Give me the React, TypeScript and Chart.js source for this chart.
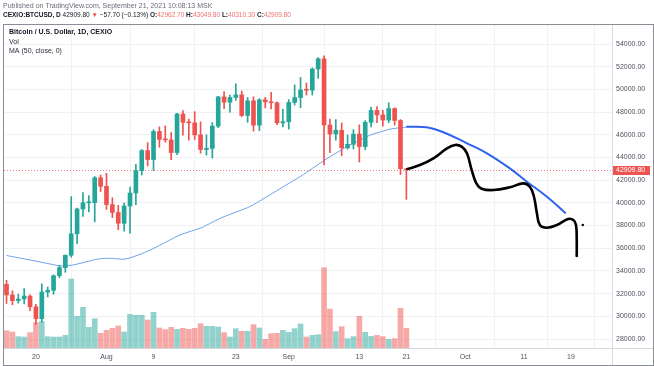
import React, { useEffect, useRef } from 'react';
import { Chart, registerables } from 'chart.js';
Chart.register(...registerables);

// Daily candles, CEXIO BTC/USD, Jul 15 – Sep 21 2021 (index = days since Jul 15)
const dates = ['Jul 15','Jul 16','Jul 17','Jul 18','Jul 19','Jul 20','Jul 21','Jul 22','Jul 23','Jul 24','Jul 25','Jul 26','Jul 27','Jul 28','Jul 29','Jul 30','Jul 31',
  'Aug 1','Aug 2','Aug 3','Aug 4','Aug 5','Aug 6','Aug 7','Aug 8','Aug 9','Aug 10','Aug 11','Aug 12','Aug 13','Aug 14','Aug 15','Aug 16','Aug 17','Aug 18','Aug 19','Aug 20','Aug 21','Aug 22','Aug 23','Aug 24','Aug 25','Aug 26','Aug 27','Aug 28','Aug 29','Aug 30','Aug 31',
  'Sep 1','Sep 2','Sep 3','Sep 4','Sep 5','Sep 6','Sep 7','Sep 8','Sep 9','Sep 10','Sep 11','Sep 12','Sep 13','Sep 14','Sep 15','Sep 16','Sep 17','Sep 18','Sep 19','Sep 20','Sep 21'];
const opens = [32820,31880,31390,31530,31780,30840,29790,32140,32290,33580,34290,35380,37270,39460,40010,40020,42210,
  41460,39850,39150,38200,39720,40870,42840,44610,43810,46290,45600,45550,44430,47830,47100,47050,45990,44700,44800,46760,49340,48870,49290,49520,47700,48990,46850,49080,48900,48820,47050,
  47150,48850,49280,49950,49930,51800,52700,46860,46070,46400,44850,45160,46060,44960,47100,48150,47750,47290,48310,47260,42960];
const highs = [33180,32250,31950,32440,31900,31060,32860,32580,33650,34490,35400,40550,39540,40900,40640,42320,42450,
  42600,40450,39780,39970,41380,43390,44700,45310,46450,46700,46780,46200,47880,48140,47380,48040,47140,46000,47080,49380,49800,49500,50500,49860,49280,49340,49180,49300,49750,48900,48250,
  49100,50400,51050,50560,51900,52800,52950,47380,47340,47050,45980,46460,46880,47250,48450,48490,48160,48820,48380,47340,43050];
const lows = [31130,31020,31160,31100,30500,29280,29480,31710,31940,33400,33880,35210,36400,38800,39200,38320,41000,
  39420,38690,37640,37510,37330,39850,42450,43260,42840,44900,45350,43800,44240,45970,45520,45580,44380,44200,43950,46630,48300,48000,49030,47600,47100,46320,46370,48370,48270,46890,46700,
  46500,48620,48380,49500,49500,50970,43350,44420,45520,44150,44730,44750,43600,44690,46700,47070,46750,47070,46850,42500,40310];
const closes = [31880,31380,31520,31780,30840,29790,32140,32290,33580,34290,35380,37270,39460,40010,40020,42210,41460,
  39850,39150,38200,39720,40870,42840,44610,43810,46290,45600,45550,44430,47830,47100,47050,45990,44700,44800,46760,49340,48870,49290,49520,47700,48990,46850,49080,48900,48820,47050,47150,
  48850,49280,49950,49930,51800,52700,46860,46070,46400,44850,45160,46060,44960,47100,48150,47750,47290,48310,47260,43010,42910];
const volumes = [520,480,340,330,460,760,790,340,330,330,380,2070,950,1220,620,880,440,
  530,590,660,480,1010,980,980,840,1070,600,550,620,560,590,560,590,730,650,650,630,460,330,580,500,500,700,600,260,430,440,530,
  470,580,720,330,380,400,2410,1170,490,640,280,340,950,470,350,380,340,260,280,1190,590];
const ma50 = [35360,35260,35160,35060,34960,34860,34760,34650,34550,34450,34430,34500,34600,34730,34860,34990,35080,
  35110,35100,35060,35030,35150,35330,35520,35740,35980,36250,36510,36780,37060,37260,37440,37610,37770,38030,38290,38550,38780,38980,39180,39380,39580,39840,40150,40460,40770,41080,41400,
  41710,42020,42330,42680,43030,43380,43730,44060,44380,44680,44980,45260,45510,45770,46000,46160,46310,46470,46560,46630,46660];

// Hand-drawn projections (x in days since Jul 15)
const blueX = [68.1, 71.4, 74.3, 78.3, 81.7, 85.6, 88.5, 91.9, 95.0];
const blueY = [46710, 46660, 46220, 45250, 44370, 43040, 41860, 40540, 39130];
const blackX = [68.2, 70.3, 72.6, 74.9, 76.3, 77.4, 78.3, 79.1, 79.9, 80.8, 82.8, 85.6, 87.9, 89.0, 89.7, 90.2, 90.7, 91.9, 93.6, 95.5, 96.4, 96.85, 96.97, 96.97];
const blackY = [42980, 43330, 43920, 44800, 45100, 44950, 44370, 42900, 41720, 41250, 41130, 41370, 41720, 41420, 40540, 39080, 38050, 37810, 38050, 38580, 38490, 38050, 36720, 35310];
const dotX = [98.0];
const dotY = [38050];

const xTickDays = [5, 17, 25, 39, 48, 60, 68, 78, 88, 96];
const xTickLabels = ['20', 'Aug', '9', '23', 'Sep', '13', '21', 'Oct', '11', '19'];
const priceTicks = [28000, 30000, 32000, 34000, 36000, 38000, 40000, 42000, 44000, 46000, 48000, 50000, 52000, 54000];
const lastPrice = 42909.8;

const headerLine1 = 'Published on TradingView.com, September 21, 2021 10:08:13 MSK';
const legendTitle = 'Bitcoin / U.S. Dollar, 1D, CEXIO';
const legendVol = 'Vol';
const legendMA = 'MA (50, close, 0)';

const GREEN = '#26a69a';
const RED = '#ef5350';
const FONT = '"Liberation Sans", Arial, sans-serif';

const tvPlugin = {
  id: 'tvDecor',
  beforeDraw(chart: any) {
    const { ctx, width, height } = chart;
    ctx.save();
    ctx.fillStyle = '#ffffff';
    ctx.fillRect(0, 0, width, height);
    ctx.restore();
  },
  beforeDatasetsDraw(chart: any) {
    const { ctx, chartArea: a, scales } = chart;
    const y = Math.round(scales.y.getPixelForValue(lastPrice)) + 0.5;
    ctx.save();
    ctx.strokeStyle = 'rgba(239,83,80,0.75)';
    ctx.lineWidth = 1;
    ctx.setLineDash([1, 2]);
    ctx.beginPath();
    ctx.moveTo(a.left, y);
    ctx.lineTo(a.right, y);
    ctx.stroke();
    ctx.restore();
  },
  afterDraw(chart: any) {
    const { ctx, chartArea: a, scales, width, height } = chart;
    ctx.save();
    // frame
    ctx.strokeStyle = '#d6d8de';
    ctx.lineWidth = 1;
    ctx.beginPath();
    ctx.moveTo(Math.round(a.right) + 0.5, 24);
    ctx.lineTo(Math.round(a.right) + 0.5, height);
    ctx.moveTo(3, Math.round(a.bottom) + 0.5);
    ctx.lineTo(width, Math.round(a.bottom) + 0.5);
    ctx.stroke();
    ctx.strokeStyle = '#8a8d96';
    ctx.strokeRect(3.5, 24.5, width - 4, height - 25);

    // price tag
    const py = scales.y.getPixelForValue(lastPrice);
    ctx.fillStyle = RED;
    ctx.fillRect(a.right + 1, Math.round(py) - 4, 37, 9);
    ctx.fillStyle = '#ffffff';
    ctx.font = `7px ${FONT}`;
    ctx.textBaseline = 'middle';
    ctx.textAlign = 'left';
    ctx.fillText(lastPrice.toFixed(2), a.right + 4, Math.round(py) + 0.5);

    // header
    ctx.fillStyle = '#6a6d78';
    ctx.fillText(headerLine1, 3, 6);
    const segs: [string, boolean, string][] = [
      ['CEXIO:BTCUSD, D', true, '#131722'],
      [' 42909.80 ', false, '#131722'],
      ['\u25BC', false, RED],
      [' \u221257.70 (\u22120.13%) ', false, '#131722'],
      ['O:', true, '#131722'], ['42962.70 ', false, '#f0706d'],
      ['H:', true, '#131722'], ['43049.80 ', false, '#f0706d'],
      ['L:', true, '#131722'], ['40310.30 ', false, '#f0706d'],
      ['C:', true, '#131722'], ['42909.80', false, '#f0706d'],
    ];
    let x = 3;
    for (const [t, b, c] of segs) {
      ctx.font = `${b ? 'bold ' : ''}6.5px ${FONT}`;
      ctx.fillStyle = c;
      ctx.fillText(t, x, 15.5);
      x += ctx.measureText(t).width;
    }
    // legend
    ctx.fillStyle = '#131722';
    ctx.font = `bold 7px ${FONT}`;
    ctx.fillText(legendTitle, 9, 32.5);
    ctx.font = `7px ${FONT}`;
    ctx.fillStyle = '#2a2e39';
    ctx.fillText(legendVol, 9, 42);
    ctx.fillText(legendMA, 9, 51);
    ctx.restore();
  },
};

export default function App() {
  const ref = useRef<HTMLCanvasElement>(null);
  useEffect(() => {
    document.body.style.margin = '0';
    const up = closes.map((c, i) => c >= opens[i]);
    const candleColors = up.map((u) => (u ? GREEN : RED));
    const volColors = up.map((u) => (u ? 'rgba(38,166,154,0.5)' : 'rgba(239,83,80,0.5)'));
    const chart = new Chart(ref.current as HTMLCanvasElement, {
      type: 'bar',
      data: {
        labels: dates,
        datasets: [
          {
            type: 'line', label: 'drawing', data: blackX.map((x, i) => ({ x, y: blackY[i] })),
            borderColor: '#000000', borderWidth: 2.6, tension: 0.4, pointRadius: 0, yAxisID: 'y', order: 0,
            borderCapStyle: 'round', borderJoinStyle: 'round',
          } as any,
          {
            type: 'line', label: 'dot', data: dotX.map((x, i) => ({ x, y: dotY[i] })), showLine: false,
            pointRadius: 1.2, pointBackgroundColor: '#000', pointBorderWidth: 0, yAxisID: 'y', order: 0,
          } as any,
          {
            type: 'line', label: 'projection', data: blueX.map((x, i) => ({ x, y: blueY[i] })),
            borderColor: '#2f62ee', borderWidth: 2, tension: 0.4, pointRadius: 0, yAxisID: 'y', order: 1,
            borderCapStyle: 'round',
          } as any,
          {
            type: 'bar', label: 'body', data: opens.map((o, i) => ({ x: i, y: [o, closes[i]] })),
            backgroundColor: candleColors, barThickness: 4, grouped: false, minBarLength: 1, yAxisID: 'y', order: 3,
          } as any,
          {
            type: 'bar', label: 'wick', data: lows.map((l, i) => ({ x: i, y: [l, highs[i]] })),
            backgroundColor: candleColors, barThickness: 1, grouped: false, yAxisID: 'y', order: 4,
          } as any,
          {
            type: 'line', label: 'MA', data: ma50.map((m, i) => ({ x: i, y: m })),
            borderColor: '#6aa3ec', borderWidth: 1, tension: 0.3, pointRadius: 0, yAxisID: 'y', order: 5,
          } as any,
          {
            type: 'bar', label: 'Vol', data: volumes.map((v, i) => ({ x: i, y: v })),
            backgroundColor: volColors, barThickness: 5, grouped: false, yAxisID: 'yv', order: 6,
          } as any,
        ],
      },
      options: {
        animation: false,
        responsive: false,
        devicePixelRatio: 1,
        layout: { padding: { top: 24, left: 4, right: 0, bottom: 0 } },
        plugins: { legend: { display: false }, tooltip: { enabled: false } },
        scales: {
          x: {
            type: 'linear', min: -0.43, max: 102.97, offset: false,
            afterFit: (s: any) => { s.height = 18; },
            afterBuildTicks: (s: any) => { s.ticks = xTickDays.map((v) => ({ value: v })); },
            ticks: {
              autoSkip: false, maxRotation: 0, minRotation: 0, padding: 5,
              color: '#4c525e', font: { family: FONT, size: 7 },
              callback: (v: any) => { const k = xTickDays.indexOf(Number(v)); return k >= 0 ? xTickLabels[k] : ''; },
            },
            grid: { color: '#f0f1f4', drawTicks: false },
            border: { display: false },
          },
          y: {
            type: 'linear', position: 'right', min: 27207, max: 55763,
            afterFit: (s: any) => { s.width = 42; },
            afterBuildTicks: (s: any) => { s.ticks = priceTicks.map((v) => ({ value: v })); },
            ticks: {
              padding: 4, color: '#4c525e', font: { family: FONT, size: 7 },
              callback: (v: any) => Number(v).toFixed(2),
            },
            grid: { color: '#f0f1f4', drawTicks: false },
            border: { display: false },
          },
          yv: {
            type: 'linear', display: false, min: 0, max: 9724,
          },
        } as any,
      },
      plugins: [tvPlugin],
    } as any);
    return () => chart.destroy();
  }, []);
  return (
    <div style={{ position: 'absolute', left: 0, top: 0, width: 654, height: 366 }}>
      <canvas ref={ref} width={654} height={366} style={{ display: 'block', width: 654, height: 366 }} />
    </div>
  );
}
